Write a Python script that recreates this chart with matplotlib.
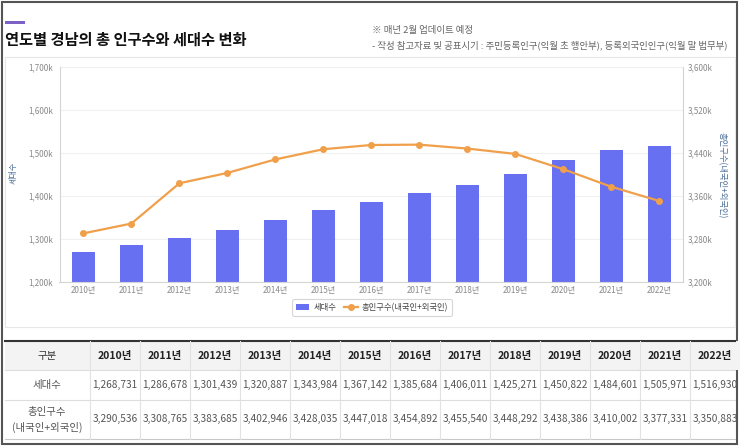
import numpy as np
import matplotlib
matplotlib.use("Agg")
import matplotlib.pyplot as plt
from matplotlib.patches import Rectangle, Patch
from matplotlib.lines import Line2D

plt.rcParams["font.family"] = ["Noto Sans CJK KR", "DejaVu Sans"]

# 데이터
years = [2010, 2011, 2012, 2013, 2014, 2015, 2016, 2017, 2018, 2019, 2020, 2021, 2022]
households = [1268731, 1286678, 1301439, 1320887, 1343984, 1367142, 1385684,
              1406011, 1425271, 1450822, 1484601, 1505971, 1516930]
population = [3290536, 3308765, 3383685, 3402946, 3428035, 3447018, 3454892,
              3455540, 3448292, 3438386, 3410002, 3377331, 3350883]
left_ticks = [1200000, 1300000, 1400000, 1500000, 1600000, 1700000]
right_ticks = [3200000, 3280000, 3360000, 3440000, 3520000, 3600000]

title = "연도별 경남의 총 인구수와 세대수 변화"
note1 = "※ 매년 2월 업데이트 예정"
note2 = "- 작성 참고자료 및 공표시기 : 주민등록인구(익월 초 행안부), 등록외국인인구(익월 말 법무부)"

BAR_COLOR = "#6670f0"
LINE_COLOR = "#f0a04b"
TICK_COLOR = "#888888"
LABEL_COLOR = "#4a6c96"

W, H = 740, 447
fig = plt.figure(figsize=(W / 100, H / 100), dpi=100)

# 배경 장식 / 표 (픽셀 좌표)
ov = fig.add_axes([0, 0, 1, 1], zorder=-1)
ov.set_xlim(0, W)
ov.set_ylim(H, 0)
ov.axis("off")

ov.add_patch(Rectangle((2, 2), 735, 442, fill=False, edgecolor="#555555", lw=1.5))
ov.add_patch(Rectangle((5, 21), 20, 3, color="#7b62c4", lw=0))
ov.text(5, 40, title, fontsize=11, fontweight="bold", color="#111111",
        va="center", ha="left")
ov.text(372, 30, note1, fontsize=6.8, color="#666666", va="center", ha="left")
ov.text(372, 45, note2, fontsize=6.8, color="#666666", va="center", ha="left")

# 차트 패널 테두리
ov.add_patch(Rectangle((5, 57), 730, 270, fill=False, edgecolor="#e6e6e6", lw=0.8))

# 표
ov.add_patch(Rectangle((5, 341), 735, 29, color="#f3f3f3", lw=0))
ov.plot([5, 735], [341, 341], color="#333333", lw=1.5)
for yy in [370, 400]:
    ov.plot([5, 735], [yy, yy], color="#dddddd", lw=0.8)
ov.plot([5, 735], [439, 439], color="#c8c8c8", lw=0.8)
for k in range(len(years)):
    xx = 90 + 50 * k
    ov.plot([xx, xx], [341, 439], color="#e2e2e2", lw=0.8)

ov.text(47, 356, "구분", fontsize=7.5, color="#333333", ha="center", va="center")
ov.text(47, 385, "세대수", fontsize=7.5, color="#555555", ha="center", va="center")
ov.text(47, 412, "총인구수", fontsize=7.5, color="#555555", ha="center", va="center")
ov.text(47, 427, "(내국인+외국인)", fontsize=7.5, color="#555555", ha="center", va="center")
for k, (yr, hh, pp) in enumerate(zip(years, households, population)):
    cx = 115 + 50 * k
    ov.text(cx, 356, f"{yr}년", fontsize=7.5, fontweight="bold", color="#222222",
            ha="center", va="center")
    ov.text(cx, 385, f"{hh:,}", fontsize=7.3, color="#555555", ha="center", va="center")
    ov.text(cx, 419, f"{pp:,}", fontsize=7.3, color="#555555", ha="center", va="center")

# 차트
x = np.arange(len(years))
ax = fig.add_axes([59.5 / W, 1 - 282 / H, 623.5 / W, 215 / H])
ax.bar(x, households, width=0.48, color=BAR_COLOR, zorder=2)
ax.set_xlim(-0.5, len(years) - 0.5)
ax.set_ylim(left_ticks[0], left_ticks[-1])
ax.set_yticks(left_ticks)
ax.set_yticklabels([f"{v // 1000:,}k" for v in left_ticks])
ax.set_xticks(x)
ax.set_xticklabels([f"{y}년" for y in years])
ax.yaxis.grid(True, color="#f0f0f0", lw=0.8)
ax.set_axisbelow(True)
ax.tick_params(axis="y", length=0, pad=4.5, labelsize=5.8, labelcolor=TICK_COLOR)
ax.tick_params(axis="x", length=0, pad=3, labelsize=5.8, labelcolor=TICK_COLOR)
for s in ["top", "right"]:
    ax.spines[s].set_visible(False)
ax.spines["left"].set_color("#d5d5d5")
ax.spines["bottom"].set_color("#d5d5d5")
ax.spines["left"].set_linewidth(0.8)
ax.spines["bottom"].set_linewidth(0.8)
ax.set_ylabel("세대수", fontsize=5.8, color=LABEL_COLOR)
ax.yaxis.set_label_coords((18 - 59.5) / 623.5, (282 - 173) / 215)

ax2 = ax.twinx()
ax2.plot(x, population, color=LINE_COLOR, lw=1.6, marker="o", markersize=4,
         zorder=3)
ax2.set_ylim(right_ticks[0], right_ticks[-1])
ax2.set_yticks(right_ticks)
ax2.set_yticklabels([f"{v // 1000:,}k" for v in right_ticks])
ax2.tick_params(axis="y", length=0, pad=3.5, labelsize=5.8, labelcolor=TICK_COLOR)
for s in ["top", "left", "bottom"]:
    ax2.spines[s].set_visible(False)
ax2.spines["right"].set_color("#c4d6de")
ax2.spines["right"].set_linewidth(0.8)
ax2.set_ylabel("총인구수(내국인+외국인)", fontsize=6, color=LABEL_COLOR,
               rotation=270, va="center")
ax2.yaxis.set_label_coords((722 - 59.5) / 623.5, (282 - 175) / 215)

handles = [
    Patch(facecolor=BAR_COLOR, edgecolor="none"),
    Line2D([0], [0], color=LINE_COLOR, lw=1.6, marker="o", markersize=4),
]
leg = fig.legend(handles, ["세대수", "총인구수(내국인+외국인)"], loc="center",
                 bbox_to_anchor=(372 / W, 1 - 307.5 / H), ncol=2, fontsize=6,
                 frameon=True, handlelength=1.6, handletextpad=0.5,
                 columnspacing=1.0, borderpad=0.45, fancybox=True)
leg.get_frame().set_edgecolor("#cccccc")
leg.get_frame().set_linewidth(0.8)
for t in leg.get_texts():
    t.set_color("#444444")

fig.savefig("out.png", dpi=100)
